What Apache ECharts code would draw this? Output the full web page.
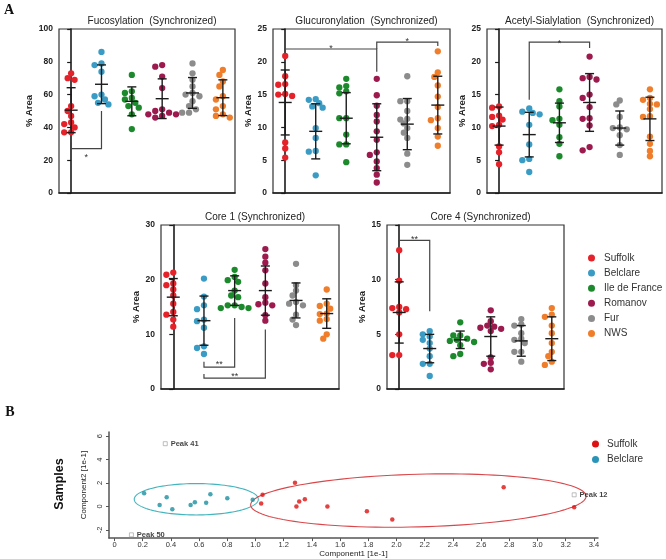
<!DOCTYPE html>
<html><head><meta charset="utf-8">
<script src="https://cdn.jsdelivr.net/npm/echarts@6/dist/echarts.min.js"></script>
<style>html,body{margin:0;padding:0;background:#fff}#c{width:666px;height:559px}</style>
</head><body><div id="c"></div>
<script>
// ---------- data ----------
const groups = ['Suffolk','Belclare','Ile de France','Romanov','Fur','NWS'];

const fucoValues = [
  [73, 70, 69, 53, 50, 47, 43, 42, 40, 37, 37],
  [86, 79, 78, 74, 60, 59, 57, 55, 54],
  [72, 62, 61, 58, 57, 55, 53, 52, 48, 39],
  [78, 77, 71, 64, 51, 50, 49, 48, 48, 47, 46],
  [79, 73, 69, 65, 61, 60, 59, 56, 53, 51, 49, 49],
  [75, 72, 68, 65, 59, 57, 53, 51, 48, 47, 46]
];
const fucoMean = [50.5, 66.3, 55.9, 57.5, 61.0, 58.1];
const fucoSD = [13.7, 11.8, 8.8, 12.1, 9.4, 10.9];
const fucoSig = [[0, 31, 1, 50, 27, 21.5, '*']];

const glucValues = [
  [20.9, 17.8, 16.6, 16.5, 15.1, 15.0, 14.8, 14.7, 7.7, 6.8, 5.4],
  [14.3, 14.2, 13.7, 13.2, 13.0, 9.9, 8.4, 6.4, 6.3, 2.7],
  [17.4, 16.3, 16.1, 15.5, 15.2, 11.4, 11.4, 8.9, 7.4, 7.4, 4.7],
  [17.4, 14.9, 13.3, 11.9, 10.9, 9.4, 8.1, 6.2, 5.8, 4.8, 3.8, 2.8, 1.6],
  [17.8, 14.0, 14.0, 12.5, 11.3, 11.2, 10.6, 9.9, 9.2, 8.4, 6.0, 4.3],
  [21.6, 18.4, 17.7, 16.4, 14.7, 13.1, 11.4, 11.1, 9.9, 8.6, 7.2]
];
const glucMean = [13.8, 9.4, 11.4, 8.5, 10.5, 13.4];
const glucSD = [4.95, 4.2, 3.9, 5.1, 3.9, 4.4];
const glucSig = [[0, 21.3, 3, 18.5, 21.95, 22.0, '*'], [3, 21.95, 5, 22.4, 23.0, 23.05, '*']];

const acetValues = [
  [13.2, 13.0, 11.8, 11.6, 11.2, 10.4, 10.2, 7.1, 6.2, 4.4],
  [12.9, 12.4, 12.2, 12.0, 10.4, 7.4, 5.2, 5.0, 3.2],
  [15.8, 14.0, 13.2, 11.3, 11.1, 10.4, 8.5, 7.5, 5.6],
  [20.8, 17.7, 17.5, 17.3, 15.0, 14.5, 13.1, 11.4, 11.3, 10.3, 7.0, 6.5],
  [14.1, 13.5, 11.6, 10.0, 9.9, 9.7, 8.8, 7.3, 5.8],
  [15.8, 14.5, 14.2, 13.6, 13.5, 12.8, 11.7, 11.6, 8.6, 7.5, 6.4, 5.6]
];
const acetMean = [10.2, 8.9, 10.7, 13.8, 9.9, 11.3];
const acetSD = [2.9, 3.4, 3.0, 4.4, 2.6, 3.3];
const acetSig = [[1, 14.2, 3, 22.1, 23.0, 22.8, '*']];

const core1Values = [
  [21.3, 20.9, 19.3, 19.0, 18.2, 17.1, 15.6, 14.1, 13.6, 12.7, 11.4],
  [20.2, 16.9, 15.3, 14.6, 12.7, 12.4, 11.2, 7.8, 7.5, 6.4],
  [21.8, 20.5, 19.9, 19.6, 18.0, 17.1, 16.8, 15.3, 15.3, 15.0, 14.8, 14.8],
  [25.6, 24.2, 23.1, 21.7, 19.3, 16.8, 15.8, 15.5, 15.3, 13.5, 12.5],
  [22.9, 19.0, 18.0, 17.1, 15.9, 15.6, 15.3, 13.6, 12.7, 11.7],
  [18.2, 15.6, 15.2, 14.7, 13.8, 13.7, 12.8, 12.5, 10.0, 9.2]
];
const core1Mean = [16.8, 12.5, 18.0, 18.0, 16.2, 13.8];
const core1SD = [3.4, 4.5, 2.7, 4.5, 3.2, 2.7];
const core1Sig = [[1, 5.0, 2, 13.0, 4.0, 4.4, '**'], [1, 2.75, 3, 10.9, 2.0, 2.2, '**']];

const core4Values = [
  [12.7, 9.9, 7.5, 7.4, 7.3, 7.2, 7.0, 5.0, 3.1, 3.1],
  [5.3, 5.0, 4.8, 4.5, 4.2, 3.7, 3.0, 2.3, 2.3, 1.2],
  [6.1, 4.9, 4.9, 4.6, 4.5, 4.4, 4.3, 4.0, 3.2, 3.0],
  [7.2, 6.2, 5.8, 5.7, 5.6, 5.5, 5.3, 2.9, 2.4, 2.3, 1.8],
  [6.4, 5.9, 5.8, 5.1, 4.6, 4.5, 4.2, 3.4, 3.4, 2.5],
  [7.4, 6.8, 6.6, 5.8, 5.1, 4.2, 3.4, 3.0, 2.5, 2.2]
];
const core4Mean = [7.0, 3.7, 4.5, 4.8, 4.4, 4.6];
const core4SD = [2.8, 1.3, 0.8, 1.8, 1.4, 2.0];
const core4Sig = [[0, 13.1, 1, 7.1, 13.6, 13.7, '**']];

// Panel B (PLS-DA samples)
const pcaSuffolk = [[1.05,0.99],[1.04,0.25],[1.28,2.03],[1.31,0.42],[1.29,0.0],[1.35,0.62],[1.51,0.0],[1.79,-0.42],[1.97,-1.13],[2.76,1.64],[3.26,-0.08]];
const pcaBelclare = [[0.21,1.13],[0.32,0.11],[0.37,0.79],[0.41,-0.25],[0.54,0.11],[0.57,0.36],[0.65,0.31],[0.68,1.04],[0.80,0.70],[0.98,0.57]];
const pcaPeakNames = ['Peak 41','Peak 50','Peak 12'];
const pcaPeaks = [[0.36,5.36],[0.12,-2.43],[3.26,0.99]];
const pcaEllipses = [[0.58,0.61,0.44,1.34,0],[2.155,0.5,1.19,2.25,1.5]]; // cx, cy, rx, ry, tilt(deg)
const pcaXTicks = [0,0.2,0.4,0.6,0.8,1.0,1.2,1.4,1.6,1.8,2.0,2.2,2.4,2.6,2.8,3.0,3.2,3.4];
const pcaYTicks = [-2,0,2,4,6];

// ---------- styles / layout ----------
const colors = ['#e5222a','#3a9cc4','#1c8a2c','#9c1a4e','#8c8c8c','#f07d2a'];
const pcaColors = ['#dd1111','#1a8f9f'];
const ellColors = ['#44b4bd','#d9474b'];
const FONT = '"Liberation Sans", Arial, sans-serif';

const panels = [
  {title:'Fucosylation  (Synchronized)', grid:{left:59,top:29,width:176,height:164}, yMax:100, yInt:20, values:fucoValues, mean:fucoMean, sd:fucoSD, sig:fucoSig, nameGap:25},
  {title:'Glucuronylation  (Synchronized)', grid:{left:273,top:29,width:177,height:164}, yMax:25, yInt:5, values:glucValues, mean:glucMean, sd:glucSD, sig:glucSig, nameGap:19},
  {title:'Acetyl-Sialylation  (Synchronized)', grid:{left:487,top:29,width:175,height:164}, yMax:25, yInt:5, values:acetValues, mean:acetMean, sd:acetSD, sig:acetSig, nameGap:19},
  {title:'Core 1 (Synchronized)', grid:{left:161,top:225,width:178,height:164}, yMax:30, yInt:10, values:core1Values, mean:core1Mean, sd:core1SD, sig:core1Sig, nameGap:18},
  {title:'Core 4 (Synchronized)', grid:{left:387,top:225,width:177,height:164}, yMax:15, yInt:5, values:core4Values, mean:core4Mean, sd:core4SD, sig:core4Sig, nameGap:19}
];
const X_MIN = -0.4, X_MAX = 5.4, DOT = 6.3;

// deterministic beeswarm layout (pixel-based) for the dot plot
function swarm(vals, gi, yMax, plotH, xUnitPx) {
  const ppy = plotH / yMax;
  const placed = [];
  return vals.slice().sort((a,b)=>b-a).map(v => {
    const py = v * ppy;
    let off = 0;
    for (let k = 0; k < 20; k++) {
      const c = k === 0 ? 0 : (k % 2 ? -1 : 1) * Math.ceil(k/2) * DOT * 0.55;
      if (placed.every(p => Math.hypot(p[0]-c, p[1]-py) >= DOT*0.82)) { off = c; break; }
    }
    placed.push([off, py]);
    return [gi + off / xUnitPx, v];
  });
}

function renderErr(params, api) {
  const gi = api.value(0), m = api.value(1), s = api.value(2);
  const c = api.coord([gi, m]), t = api.coord([gi, m + s]), b = api.coord([gi, m - s]);
  const st = {stroke:'#1b1b1b', lineWidth:1.4};
  const L = (x1,y1,x2,y2) => ({type:'line', shape:{x1,y1,x2,y2}, style:st});
  return {type:'group', children:[
    L(c[0]-6.5,c[1],c[0]+6.5,c[1]),
    L(t[0],t[1],b[0],b[1]),
    L(t[0]-4.5,t[1],t[0]+4.5,t[1]),
    L(b[0]-4.5,b[1],b[0]+4.5,b[1])
  ]};
}
function makeSigRender(sig) {
  return function(params, api) {
    const x1 = api.value(0), y1 = api.value(1), x2 = api.value(2), y2 = api.value(3), yh = api.value(4), ly = api.value(5);
    const a = api.coord([x1,y1]), ah = api.coord([x1,yh]), bh = api.coord([x2,yh]), b = api.coord([x2,y2]);
    const lp = api.coord([(x1+x2)/2, ly]);
    return {type:'group', children:[
      {type:'polyline', shape:{points:[a,ah,bh,b]}, style:{stroke:'#444', lineWidth:1.2, fill:null}},
      {type:'text', x:lp[0], y:lp[1], style:{text:sig[params.dataIndex][6], fill:'#333', font:'9px ' + FONT, align:'center', verticalAlign:'middle'}}
    ]};
  };
}
function renderEllipse(params, api) {
  const cx = api.value(0), cy = api.value(1), rx = api.value(2), ry = api.value(3), ang = api.value(4) * Math.PI / 180;
  const c = api.coord([cx, cy]);
  const rxp = api.size([rx, 0])[0], ryp = api.size([0, ry])[1];
  const pts = [];
  for (let k = 0; k <= 120; k++) {
    const t = k / 120 * 2 * Math.PI, u = rxp * Math.cos(t), v = ryp * Math.sin(t);
    pts.push([c[0] + u*Math.cos(ang) + v*Math.sin(ang), c[1] - u*Math.sin(ang) + v*Math.cos(ang)]);
  }
  return {type:'polyline', shape:{points:pts}, style:{stroke:ellColors[params.dataIndex], lineWidth:1.1, fill:null}};
}

const grid = [], xAxis = [], yAxis = [], series = [], title = [];
panels.forEach((p, pi) => {
  grid.push(Object.assign({show:true, borderColor:'#333', borderWidth:1.2, backgroundColor:'transparent'}, p.grid));
  xAxis.push({type:'value', gridIndex:pi, min:X_MIN, max:X_MAX, axisLine:{show:true, onZero:false, lineStyle:{color:'#1a1a1a', width:1.6}},
    axisTick:{show:false}, axisLabel:{show:false}, splitLine:{show:false}});
  yAxis.push({type:'value', gridIndex:pi, min:0, max:p.yMax, interval:p.yInt,
    axisLine:{show:true, lineStyle:{color:'#1a1a1a', width:1.6}},
    axisTick:{show:true, length:4, lineStyle:{color:'#1a1a1a', width:1.2}},
    axisLabel:{fontSize:8.5, fontWeight:'bold', color:'#222', fontFamily:FONT, margin:6},
    splitLine:{show:false},
    name:'% Area', nameLocation:'middle', nameRotate:90, nameGap:p.nameGap,
    nameTextStyle:{fontSize:9.5, fontWeight:'bold', color:'#222', fontFamily:FONT}});
  title.push({text:p.title, left:p.grid.left + p.grid.width/2, top:p.grid.top - 18, textAlign:'center',
    textStyle:{fontSize:10, fontWeight:'normal', color:'#222', fontFamily:FONT}});
  const xUnitPx = p.grid.width / (X_MAX - X_MIN);
  p.values.forEach((vals, gi) => {
    series.push({type:'scatter', name:groups[gi], xAxisIndex:pi, yAxisIndex:pi, symbolSize:DOT,
      itemStyle:{color:colors[gi], opacity:1}, z:2,
      data:swarm(vals, gi, p.yMax, p.grid.height, xUnitPx)});
  });
  series.push({type:'custom', xAxisIndex:pi, yAxisIndex:pi, z:5, renderItem:renderErr, encode:{x:0, y:1},
    data:p.mean.map((m, gi) => [gi, m, p.sd[gi]]), silent:true});
  series.push({type:'custom', xAxisIndex:pi, yAxisIndex:pi, z:6, renderItem:makeSigRender(p.sig), encode:{x:[0,2], y:[1,3,4,5]},
    data:p.sig.map(s => s.slice(0,6)), silent:true});
});

// Panel B
const bi = panels.length;
grid.push({left:109, top:432, width:489, height:107, show:false});
xAxis.push({type:'value', gridIndex:bi, min:-0.039, max:3.429,
  axisLine:{show:true, onZero:false, lineStyle:{color:'#555', width:1.5}},
  axisTick:{show:true, length:3, customValues:pcaXTicks, lineStyle:{color:'#555'}},
  axisLabel:{customValues:pcaXTicks, fontSize:7.5, color:'#333', fontFamily:FONT, margin:3,
    formatter:v => (Math.abs(v) < 1e-9 ? '0' : v.toFixed(1))},
  splitLine:{show:false},
  name:'Component1 [1e-1]', nameLocation:'middle', nameGap:11,
  nameTextStyle:{fontSize:8, color:'#222', fontFamily:FONT}});
yAxis.push({type:'value', gridIndex:bi, min:-2.71, max:6.36,
  axisLine:{show:true, onZero:false, lineStyle:{color:'#555', width:1.5}},
  axisTick:{show:true, length:3, customValues:pcaYTicks, lineStyle:{color:'#555'}},
  axisLabel:{customValues:pcaYTicks, rotate:90, fontSize:7.5, color:'#333', fontFamily:FONT, margin:5},
  splitLine:{show:false},
  name:'Component2 [1e-1]', nameLocation:'middle', nameRotate:90, nameGap:15,
  nameTextStyle:{fontSize:8, color:'#222', fontFamily:FONT}});
series.push({type:'custom', xAxisIndex:bi, yAxisIndex:bi, z:1, renderItem:renderEllipse, encode:{x:0, y:1},
  data:pcaEllipses, silent:true});
series.push({type:'scatter', name:'Suffolk', xAxisIndex:bi, yAxisIndex:bi, symbolSize:4.5, itemStyle:{color:pcaColors[0]}, data:pcaSuffolk, z:3});
series.push({type:'scatter', name:'Belclare', xAxisIndex:bi, yAxisIndex:bi, symbolSize:4.5, itemStyle:{color:pcaColors[1]}, data:pcaBelclare, z:3});
series.push({type:'scatter', name:'peaks', xAxisIndex:bi, yAxisIndex:bi, symbol:'rect', symbolSize:4, z:3,
  itemStyle:{color:'#fff', borderColor:'#999', borderWidth:0.8},
  label:{show:true, position:'right', distance:3, formatter:'{b}', fontSize:7.5, fontWeight:'bold', color:'#111', fontFamily:FONT},
  data:pcaPeaks.map((d, i) => ({name:pcaPeakNames[i], value:d}))});

const option = {
  animation:false,
  backgroundColor:'#fff',
  title, grid, xAxis, yAxis, series,
  legend:[
    {data:groups, orient:'vertical', left:583, top:248, itemWidth:7, itemHeight:7, itemGap:5.1, icon:'circle', selectedMode:false,
     textStyle:{fontSize:10, color:'#333', fontFamily:FONT, padding:[0,0,0,4]}},
    {data:[{name:'Suffolk', itemStyle:{color:pcaColors[0]}}, {name:'Belclare', itemStyle:{color:'#2a93b8'}}],
     orient:'vertical', left:587, top:434, itemWidth:7, itemHeight:7, itemGap:5.5, icon:'circle', selectedMode:false,
     textStyle:{fontSize:10, color:'#333', fontFamily:FONT, padding:[0,0,0,3]}}
  ],
  graphic:[
    {type:'text', x:9, y:10, style:{text:'A', font:'bold 14px "Liberation Serif", serif', fill:'#111', align:'center', verticalAlign:'middle'}},
    {type:'text', x:10, y:412, style:{text:'B', font:'bold 14px "Liberation Serif", serif', fill:'#111', align:'center', verticalAlign:'middle'}},
    {type:'text', x:60, y:484, rotation:Math.PI/2, style:{text:'Samples', font:'bold 12.5px ' + FONT, fill:'#111', align:'center', verticalAlign:'middle'}}
  ]
};
const chart = echarts.init(document.getElementById('c'), null, {renderer:'canvas'});
chart.setOption(option);
</script>
</body></html>
